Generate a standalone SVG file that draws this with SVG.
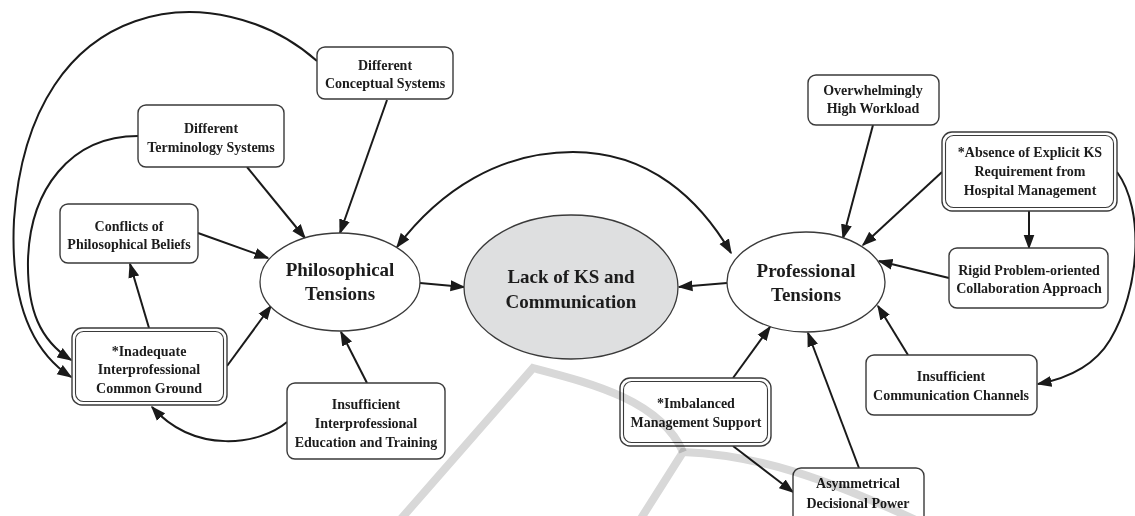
<svg xmlns="http://www.w3.org/2000/svg" width="1135" height="516" viewBox="0 0 1135 516">
<style>
.box{fill:#fff;stroke:#3a3a3a;stroke-width:1.4}
.inner{fill:none;stroke:#3a3a3a;stroke-width:1.1}
.ell{fill:#fff;stroke:#3a3a3a;stroke-width:1.3}
.core{fill:#dedfe0;stroke:#3a3a3a;stroke-width:1.3}
text{font-family:"Liberation Serif","Times New Roman",serif;font-weight:bold;fill:#1c1c1c;text-anchor:middle}
.t{font-size:14px}
.big{font-size:19px}
.edge{fill:none;stroke:#1a1a1a;stroke-width:2}
.wm{fill:none;stroke:#d8d8d8;stroke-width:8;mix-blend-mode:multiply}
</style>
<defs>
<marker id="arr" markerUnits="userSpaceOnUse" markerWidth="15" markerHeight="12" refX="13.5" refY="6" orient="auto-start-reverse">
<path d="M0,0.5 L15,6 L0,11.5 z" fill="#1a1a1a"/>
</marker>
</defs>
<rect width="1135" height="516" fill="#fff"/>

<g id="connectors">
<path class="edge" d="M387 100 L340 233" marker-end="url(#arr)"/>
<path class="edge" d="M247 167 L305 238" marker-end="url(#arr)"/>
<path class="edge" d="M198 233 L268 258" marker-end="url(#arr)"/>
<path class="edge" d="M317 61 C220 -25 30 -12 14 220 C10 300 30 350 71 377" marker-end="url(#arr)"/>
<path class="edge" d="M138 136 C70 136 30 190 28 260 C27 310 40 340 71 360" marker-end="url(#arr)"/>
<path class="edge" d="M149 328 L130 264" marker-end="url(#arr)"/>
<path class="edge" d="M227 366 L271 306" marker-end="url(#arr)"/>
<path class="edge" d="M367 383 L341 332" marker-end="url(#arr)"/>
<path class="edge" d="M287 422 C260 445 195 455 152 407" marker-end="url(#arr)"/>
<path class="edge" d="M420 283 L464 287" marker-end="url(#arr)"/>
<path class="edge" d="M727 283 L679 287" marker-end="url(#arr)"/>
<path class="edge" d="M397 247 C440 190 500 152 573 152 C650 152 700 200 731 253" marker-start="url(#arr)" marker-end="url(#arr)"/>
<path class="edge" d="M873 125 L843 238" marker-end="url(#arr)"/>
<path class="edge" d="M942 172 L863 245" marker-end="url(#arr)"/>
<path class="edge" d="M1029 211 L1029 248" marker-end="url(#arr)"/>
<path class="edge" d="M949 278 L879 261" marker-end="url(#arr)"/>
<path class="edge" d="M1117 172 C1145 210 1140 290 1110 340 C1095 365 1070 378 1038 384" marker-end="url(#arr)"/>
<path class="edge" d="M908 355 L878 306" marker-end="url(#arr)"/>
<path class="edge" d="M733 378 L770 327" marker-end="url(#arr)"/>
<path class="edge" d="M733 446 L793 492" marker-end="url(#arr)"/>
<path class="edge" d="M859 468 L808 333" marker-end="url(#arr)"/>
</g>

<g id="conceptual">
<rect class="box" x="317" y="47" width="136" height="52" rx="8"/>
<text class="t" x="385" y="70">Different</text>
<text class="t" x="385" y="88">Conceptual Systems</text>
</g>
<g id="terminology">
<rect class="box" x="138" y="105" width="146" height="62" rx="8"/>
<text class="t" x="211" y="133">Different</text>
<text class="t" x="211" y="152">Terminology Systems</text>
</g>
<g id="conflicts">
<rect class="box" x="60" y="204" width="138" height="59" rx="8"/>
<text class="t" x="129" y="231">Conflicts of</text>
<text class="t" x="129" y="249">Philosophical Beliefs</text>
</g>
<g id="inadequate">
<rect class="box" x="72" y="328" width="155" height="77" rx="10"/>
<rect class="inner" x="75.5" y="331.5" width="148" height="70" rx="8"/>
<text class="t" x="149" y="356">*Inadequate</text>
<text class="t" x="149" y="374">Interprofessional</text>
<text class="t" x="149" y="393">Common Ground</text>
</g>
<g id="education">
<rect class="box" x="287" y="383" width="158" height="76" rx="8"/>
<text class="t" x="366" y="409">Insufficient</text>
<text class="t" x="366" y="428">Interprofessional</text>
<text class="t" x="366" y="447">Education and Training</text>
</g>
<g id="philosophical">
<ellipse class="ell" cx="340" cy="282" rx="80" ry="49"/>
<text class="big" x="340" y="276">Philosophical</text>
<text class="big" x="340" y="300">Tensions</text>
</g>
<g id="lack">
<ellipse class="core" cx="571" cy="287" rx="107" ry="72"/>
<text class="big" x="571" y="283">Lack of KS and</text>
<text class="big" x="571" y="308">Communication</text>
</g>
<g id="professional">
<ellipse class="ell" cx="806" cy="282" rx="79" ry="50"/>
<text class="big" x="806" y="277">Professional</text>
<text class="big" x="806" y="301">Tensions</text>
</g>
<g id="workload">
<rect class="box" x="808" y="75" width="131" height="50" rx="8"/>
<text class="t" x="873" y="95">Overwhelmingly</text>
<text class="t" x="873" y="113">High Workload</text>
</g>
<g id="absence">
<rect class="box" x="942" y="132" width="175" height="79" rx="10"/>
<rect class="inner" x="945.5" y="135.5" width="168" height="72" rx="8"/>
<text class="t" x="1030" y="157">*Absence of Explicit KS</text>
<text class="t" x="1030" y="176">Requirement from</text>
<text class="t" x="1030" y="195">Hospital Management</text>
</g>
<g id="rigid">
<rect class="box" x="949" y="248" width="159" height="60" rx="8"/>
<text class="t" x="1029" y="275">Rigid Problem-oriented</text>
<text class="t" x="1029" y="293">Collaboration Approach</text>
</g>
<g id="channels">
<rect class="box" x="866" y="355" width="171" height="60" rx="8"/>
<text class="t" x="951" y="381">Insufficient</text>
<text class="t" x="951" y="400">Communication Channels</text>
</g>
<g id="imbalanced">
<rect class="box" x="620" y="378" width="151" height="68" rx="10"/>
<rect class="inner" x="623.5" y="381.5" width="144" height="61" rx="8"/>
<text class="t" x="696" y="408">*Imbalanced</text>
<text class="t" x="696" y="427">Management Support</text>
</g>
<g id="asymmetrical">
<rect class="box" x="793" y="468" width="131" height="56" rx="8"/>
<text class="t" x="858" y="488">Asymmetrical</text>
<text class="t" x="858" y="508">Decisional Power</text>
</g>

<g id="watermark">
<path class="wm" d="M400 520 L533 368 C590 383 660 400 683 452"/>
<path class="wm" d="M640 520 L683 452 C760 455 830 480 920 522"/>
</g>
</svg>
